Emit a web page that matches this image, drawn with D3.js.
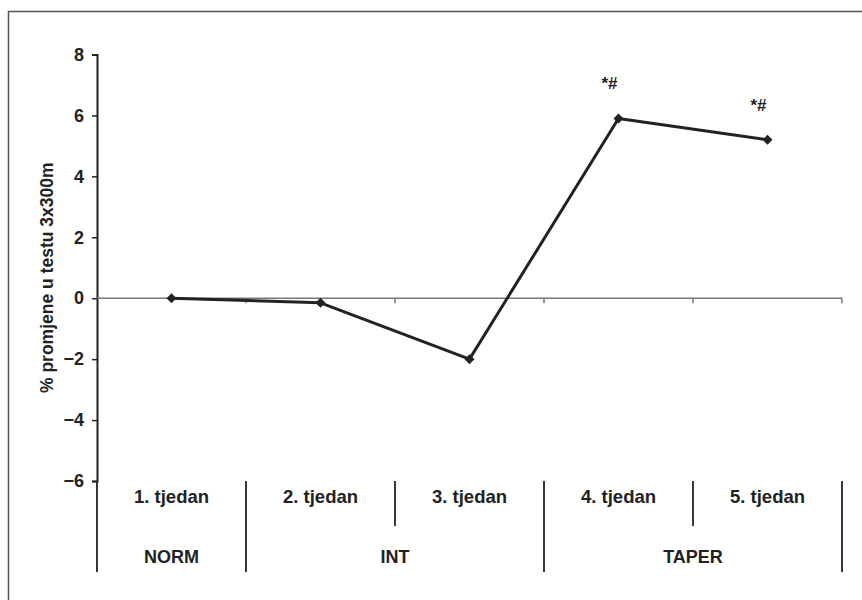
<!DOCTYPE html>
<html>
<head>
<meta charset="utf-8">
<script src="https://cdn.jsdelivr.net/npm/d3@7"></script>
<style>
  body { margin: 0; background: #fff; }
  svg { display: block; font-family: "Liberation Sans", Arial, sans-serif; }
</style>
</head>
<body>
<svg id="chart" width="862" height="600"></svg>
<script>
// Weekly change in 3x300m test performance
const weeks = ["1. tjedan", "2. tjedan", "3. tjedan", "4. tjedan", "5. tjedan"];
const changes = [0, -0.15, -2.0, 5.9, 5.2];
const marks = ["", "", "", "*#", "*#"];
const phases = ["NORM", "INT", "TAPER"];
const phaseSpans = [[0, 1], [1, 3], [3, 5]];
const yTicks = [-6, -4, -2, 0, 2, 4, 6, 8];

(function () {
  const svg = d3.select("#chart");
  const ink = "#222";

  // frame around the figure
  svg.append("rect")
    .attr("x", 8.5).attr("y", 11.5)
    .attr("width", 870).attr("height", 600)
    .attr("fill", "none").attr("stroke", "#555").attr("stroke-width", 1.5);

  const plotLeft = 97, plotRight = 842, plotTop = 54.5, plotBottom = 481;

  const x = d3.scaleBand().domain(weeks).range([plotLeft, plotRight]);
  const xEdge = d3.scaleLinear().domain([0, weeks.length]).range([plotLeft, plotRight]);
  const y = d3.scaleLinear().domain([-6, 8]).range([plotBottom, plotTop]);
  const cx = d => x(d) + x.bandwidth() / 2;

  // y axis
  const yAxis = svg.append("g")
    .attr("transform", `translate(${plotLeft},0)`)
    .call(d3.axisLeft(y).tickValues(yTicks).tickSize(5).tickPadding(8)
      .tickFormat(d => d < 0 ? "\u2212" + Math.abs(d) : d));
  yAxis.select(".domain").attr("stroke", ink).attr("stroke-width", 2);
  yAxis.selectAll(".tick line").attr("stroke", ink).attr("stroke-width", 1.5);
  yAxis.selectAll(".tick text")
    .attr("fill", ink).attr("font-size", 18).attr("font-weight", "bold");

  // zero line with category ticks
  svg.append("line")
    .attr("x1", plotLeft).attr("x2", plotRight)
    .attr("y1", y(0)).attr("y2", y(0))
    .attr("stroke", "#777").attr("stroke-width", 1.5);
  svg.append("g").selectAll("line")
    .data(d3.range(1, weeks.length + 1))
    .join("line")
    .attr("x1", d => xEdge(d)).attr("x2", d => xEdge(d))
    .attr("y1", y(0)).attr("y2", y(0) + 5)
    .attr("stroke", "#777").attr("stroke-width", 1.5);

  // y axis title
  svg.append("text")
    .attr("transform", `translate(53,${(plotTop + plotBottom) / 2 + 10}) rotate(-90)`)
    .attr("text-anchor", "middle")
    .attr("font-size", 17.5).attr("font-weight", "bold").attr("fill", ink)
    .text("% promjene u testu 3x300m");

  // category table below the plot
  const tableBottom = 572, weekRowBottom = 526;
  const groupEdges = [0, 1, 3, 5];
  svg.append("g").selectAll("line")
    .data(d3.range(0, weeks.length + 1))
    .join("line")
    .attr("x1", d => xEdge(d)).attr("x2", d => xEdge(d))
    .attr("y1", plotBottom)
    .attr("y2", d => groupEdges.includes(d) ? tableBottom : weekRowBottom)
    .attr("stroke", ink).attr("stroke-width", 1.8);

  svg.append("g").selectAll("text")
    .data(weeks)
    .join("text")
    .attr("x", d => cx(d))
    .attr("y", 503)
    .attr("text-anchor", "middle")
    .attr("font-size", 18.5).attr("font-weight", "bold").attr("fill", ink)
    .text(d => d);

  svg.append("g").selectAll("text")
    .data(phases)
    .join("text")
    .attr("x", (d, i) => (xEdge(phaseSpans[i][0]) + xEdge(phaseSpans[i][1])) / 2)
    .attr("y", 563)
    .attr("text-anchor", "middle")
    .attr("font-size", 18).attr("font-weight", "bold").attr("fill", ink)
    .text(d => d);

  // data line and markers
  const pts = weeks.map((w, i) => ({ w, v: changes[i], m: marks[i] }));
  const line = d3.line().x(d => cx(d.w)).y(d => y(d.v));
  svg.append("path")
    .datum(pts)
    .attr("d", line)
    .attr("fill", "none").attr("stroke", ink).attr("stroke-width", 3)
    .attr("stroke-linejoin", "round");

  svg.append("g").selectAll("path")
    .data(pts)
    .join("path")
    .attr("transform", d => `translate(${cx(d.w)},${y(d.v)})`)
    .attr("d", d3.symbol(d3.symbolDiamond2, 64))
    .attr("fill", ink);

  // significance marks
  svg.append("g").selectAll("text")
    .data(pts.filter(d => d.m))
    .join("text")
    .attr("x", d => cx(d.w) - 9)
    .attr("y", d => y(d.v) - 29)
    .attr("text-anchor", "middle")
    .attr("font-size", 17).attr("font-weight", "bold").attr("fill", ink)
    .text(d => d.m);
})();
</script>
</body>
</html>
